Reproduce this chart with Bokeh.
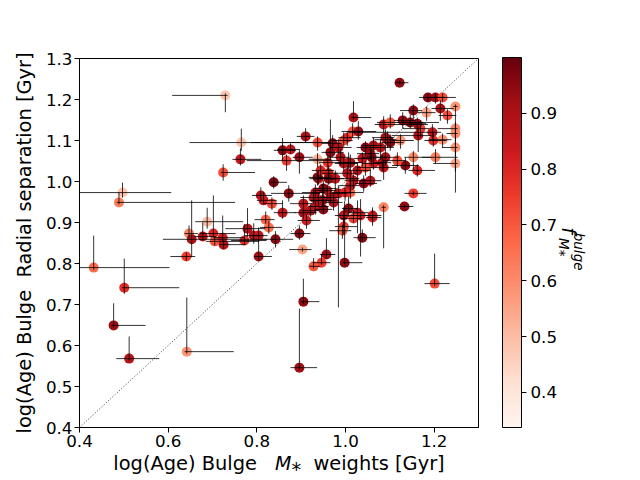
import numpy as np
from bokeh.plotting import figure
from bokeh.models import Range1d, FixedTicker, LinearColorMapper, ColorBar, ColumnDataSource, LinearAxis
from bokeh.palettes import Reds256
from bokeh.transform import transform
from bokeh.embed import file_html
from bokeh.resources import INLINE

# ---- data ----
age_mass = [0.432, 0.501, 0.477, 0.512, 0.642, 0.497, 0.489, 0.729, 0.765, 0.763,
            0.724, 0.838, 0.688, 0.647, 0.653, 0.678, 0.702, 0.705, 0.723, 0.725,
            0.772, 0.779, 0.793, 0.804, 0.804, 0.641, 0.809, 0.815, 0.834, 0.820,
            0.827, 0.842, 0.858, 0.872, 0.858, 0.876, 0.896, 0.867, 0.910, 0.937,
            0.937, 0.905, 0.905, 0.932, 0.950, 0.948, 0.959, 0.939, 0.962, 0.966,
            0.996, 1.004, 1.016, 1.029, 1.018, 0.912, 0.896, 0.903, 0.957, 0.946,
            0.928, 0.998, 0.905, 0.896, 1.201, 0.996, 1.007, 1.027, 1.034, 1.018,
            1.061, 1.086, 1.133, 0.996, 0.993, 1.038, 0.984, 1.011, 1.011, 0.928,
            0.937, 0.977, 1.011, 1.041, 1.056, 0.944, 1.004, 1.027, 1.045, 1.063,
            1.086, 1.135, 1.162, 0.989, 1.007, 1.038, 1.056, 1.090, 1.117, 1.153,
            1.203, 1.248, 1.248, 0.960, 0.971, 0.984, 1.045, 1.063, 1.079, 1.095,
            1.124, 1.164, 1.198, 1.219, 1.248, 1.248, 1.169, 1.196, 1.129, 1.146,
            1.162, 1.086, 1.101, 1.153, 1.214, 1.183, 1.230, 1.186, 1.203, 1.219,
            1.122, 1.248, 1.153,
            1.101, 1.090, 1.083, 1.011, 0.996, 0.962, 1.018, 0.932, 0.950, 0.966,
            0.999, 0.939, 0.973, 1.061, 0.921, 1.059]
age_radial = [0.790, 0.741, 0.649, 0.568, 0.585, 0.973, 0.949, 1.210, 1.095, 1.054,
              1.022, 0.998, 0.902, 0.873, 0.859, 0.866, 0.873, 0.854, 0.863, 0.846,
              0.856, 0.885, 0.868, 0.868, 0.817, 0.817, 0.966, 0.954, 0.946, 0.907,
              0.888, 0.859, 0.924, 0.971, 1.076, 1.078, 1.059, 1.051, 1.110, 1.095,
              1.054, 0.946, 0.924, 0.939, 0.932, 0.954, 0.978, 1.007, 1.020, 1.071,
              1.100, 1.107, 1.122, 1.122, 1.156, 0.905, 0.873, 0.834, 0.822, 0.802,
              0.793, 0.802, 0.707, 0.546, 0.751, 0.917, 0.934, 0.924, 0.917, 0.910,
              0.912, 0.937, 0.939, 0.890, 0.880, 0.863, 0.971, 0.973, 0.990, 0.961,
              1.010, 1.007, 1.007, 0.995, 1.002, 1.027, 1.020, 1.027, 1.034, 1.044,
              1.034, 1.039, 1.027, 1.059, 1.046, 1.056, 1.068, 1.059, 1.051, 1.059,
              1.059, 1.083, 1.044, 1.046, 1.093, 1.083, 1.083, 1.088, 1.083, 1.102,
              1.100, 1.112, 1.100, 1.102, 1.129, 1.117, 1.129, 1.120, 1.149, 1.144,
              1.141, 1.139, 1.144, 1.173, 1.178, 1.168, 1.161, 1.205, 1.205, 1.205,
              1.241, 1.183, 0.971,
              1.095, 1.107, 1.046, 1.046, 1.044, 1.007, 1.002, 0.973, 0.983, 0.961,
              0.973, 0.954, 0.949, 0.917, 0.929, 1.059]
f_bulge = [0.66, 0.78, 0.93, 0.88, 0.58, 0.48, 0.63, 0.48, 0.48, 0.85,
           0.72, 0.97, 0.50, 0.62, 0.90, 0.87, 0.80, 0.70, 0.82, 0.88,
           0.76, 0.88, 0.88, 0.85, 0.92, 0.75, 0.88, 0.84, 0.72, 0.68,
           0.66, 0.95, 0.85, 0.95, 0.95, 0.85, 0.92, 0.75, 0.90, 0.72,
           0.52, 0.85, 0.90, 0.85, 0.95, 0.93, 0.85, 0.82, 0.82, 0.95,
           0.72, 0.78, 0.70, 0.93, 0.90, 0.82, 0.95, 0.55, 0.92, 0.75,
           0.70, 0.95, 0.95, 0.92, 0.72, 0.85, 0.95, 0.85, 0.82, 0.75,
           0.82, 0.62, 0.95, 0.75, 0.68, 0.95, 0.88, 0.68, 0.85, 0.85,
           0.95, 0.85, 0.70, 0.95, 0.88, 0.80, 0.85, 0.88, 0.72, 0.82,
           0.85, 0.95, 0.80, 0.88, 0.95, 0.85, 0.90, 0.90, 0.72, 0.60,
           0.62, 0.58, 0.55, 0.75, 0.95, 0.88, 0.95, 0.90, 0.85, 0.95,
           0.58, 0.88, 0.78, 0.58, 0.60, 0.60, 0.75, 0.85, 0.95, 0.95,
           0.92, 0.85, 0.70, 0.95, 0.90, 0.55, 0.72, 0.95, 0.92, 0.72,
           0.95, 0.58, 0.75,
           0.95, 0.90, 0.90, 0.90, 0.85, 0.95, 0.85, 0.85, 0.95, 0.90,
           0.80, 0.90, 0.88, 0.85, 0.88, 0.95]
err_mass_lo = [0.060, 0.005, 0.005, 0.029, 0.005, 0.120, 0.005, 0.120, 0.117, 0.018,
               0.005, 0.007, 0.027, 0.010, 0.065, 0.020, 0.030, 0.020, 0.020, 0.010,
               0.030, 0.050, 0.020, 0.015, 0.010, 0.036, 0.020, 0.015, 0.020, 0.025,
               0.020, 0.030, 0.020, 0.040, 0.020, 0.030, 0.015, 0.090, 0.020, 0.150,
               0.020, 0.030, 0.020, 0.015, 0.020, 0.025, 0.030, 0.020, 0.015, 0.020,
               0.030, 0.020, 0.025, 0.020, 0.005, 0.020, 0.020, 0.030, 0.015, 0.020,
               0.010, 0.005, 0.005, 0.020, 0.023, 0.020, 0.015, 0.020, 0.020, 0.030,
               0.015, 0.005, 0.015, 0.020, 0.030, 0.020, 0.020, 0.020, 0.025, 0.030,
               0.020, 0.020, 0.030, 0.020, 0.015, 0.020, 0.030, 0.020, 0.020, 0.025,
               0.020, 0.030, 0.020, 0.030, 0.020, 0.020, 0.030, 0.020, 0.030, 0.020,
               0.030, 0.030, 0.050, 0.020, 0.025, 0.020, 0.020, 0.025, 0.020, 0.030,
               0.020, 0.060, 0.020, 0.030, 0.040, 0.020, 0.040, 0.190, 0.020, 0.030,
               0.020, 0.020, 0.030, 0.030, 0.020, 0.020, 0.020, 0.020, 0.015, 0.020,
               0.010, 0.005, 0.020,
               0.020, 0.030, 0.020, 0.030, 0.020, 0.020, 0.020, 0.030, 0.020, 0.020,
               0.030, 0.020, 0.020, 0.020, 0.020, 0.020]
err_mass_hi = [0.171, 0.124, 0.072, 0.068, 0.106, 0.110, 0.262, 0.005, 0.200, 0.047,
               0.072, 0.030, 0.081, 0.020, 0.170, 0.030, 0.050, 0.100, 0.050, 0.050,
               0.050, 0.040, 0.020, 0.020, 0.030, 0.020, 0.025, 0.030, 0.025, 0.020,
               0.030, 0.040, 0.030, 0.070, 0.030, 0.020, 0.030, 0.120, 0.020, 0.030,
               0.030, 0.020, 0.030, 0.030, 0.020, 0.030, 0.020, 0.040, 0.020, 0.030,
               0.020, 0.030, 0.020, 0.040, 0.040, 0.030, 0.025, 0.020, 0.020, 0.020,
               0.015, 0.040, 0.036, 0.040, 0.034, 0.030, 0.020, 0.025, 0.020, 0.020,
               0.020, 0.005, 0.020, 0.030, 0.020, 0.030, 0.020, 0.030, 0.020, 0.040,
               0.030, 0.020, 0.020, 0.030, 0.025, 0.030, 0.020, 0.030, 0.020, 0.020,
               0.030, 0.030, 0.040, 0.020, 0.030, 0.020, 0.020, 0.030, 0.020, 0.040,
               0.050, 0.005, 0.005, 0.030, 0.020, 0.030, 0.030, 0.020, 0.030, 0.020,
               0.030, 0.030, 0.030, 0.020, 0.005, 0.005, 0.020, 0.020, 0.030, 0.030,
               0.020, 0.100, 0.110, 0.020, 0.030, 0.020, 0.020, 0.020, 0.020, 0.030,
               0.020, 0.005, 0.030,
               0.030, 0.020, 0.020, 0.020, 0.030, 0.020, 0.030, 0.020, 0.030, 0.020,
               0.020, 0.030, 0.020, 0.020, 0.020, 0.030]
err_rad_lo = [0.005, 0.015, 0.005, 0.005, 0.005, 0.012, 0.005, 0.041, 0.020, 0.015,
              0.020, 0.015, 0.017, 0.010, 0.044, 0.010, 0.010, 0.010, 0.010, 0.010,
              0.010, 0.020, 0.020, 0.015, 0.010, 0.010, 0.015, 0.010, 0.015, 0.010,
              0.015, 0.020, 0.015, 0.020, 0.025, 0.010, 0.040, 0.025, 0.015, 0.020,
              0.020, 0.010, 0.015, 0.020, 0.010, 0.015, 0.020, 0.015, 0.010, 0.020,
              0.015, 0.020, 0.015, 0.020, 0.005, 0.020, 0.015, 0.005, 0.010, 0.005,
              0.005, 0.005, 0.005, 0.005, 0.005, 0.030, 0.020, 0.050, 0.100, 0.010,
              0.020, 0.100, 0.005, 0.020, 0.020, 0.010, 0.278, 0.015, 0.020, 0.015,
              0.020, 0.030, 0.015, 0.020, 0.015, 0.020, 0.015, 0.025, 0.020, 0.015,
              0.030, 0.020, 0.015, 0.020, 0.015, 0.020, 0.015, 0.020, 0.015, 0.030,
              0.015, 0.020, 0.020, 0.020, 0.015, 0.015, 0.020, 0.015, 0.030, 0.020,
              0.020, 0.040, 0.015, 0.020, 0.015, 0.015, 0.020, 0.020, 0.020, 0.015,
              0.020, 0.020, 0.015, 0.020, 0.030, 0.020, 0.020, 0.010, 0.015, 0.010,
              0.005, 0.210, 0.005,
              0.020, 0.015, 0.020, 0.015, 0.020, 0.015, 0.020, 0.015, 0.020, 0.015,
              0.020, 0.015, 0.020, 0.015, 0.015, 0.020]
err_rad_hi = [0.078, 0.071, 0.054, 0.054, 0.132, 0.024, 0.024, 0.005, 0.034, 0.027,
              0.020, 0.015, 0.034, 0.020, 0.095, 0.034, 0.093, 0.010, 0.054, 0.010,
              0.040, 0.050, 0.030, 0.020, 0.040, 0.010, 0.020, 0.020, 0.015, 0.020,
              0.015, 0.020, 0.030, 0.020, 0.030, 0.015, 0.020, 0.015, 0.020, 0.015,
              0.015, 0.020, 0.010, 0.015, 0.025, 0.040, 0.015, 0.020, 0.020, 0.080,
              0.020, 0.015, 0.020, 0.025, 0.040, 0.015, 0.020, 0.005, 0.040, 0.020,
              0.020, 0.150, 0.056, 0.144, 0.073, 0.020, 0.030, 0.030, 0.040, 0.020,
              0.020, 0.005, 0.005, 0.020, 0.015, 0.020, 0.020, 0.020, 0.020, 0.020,
              0.015, 0.020, 0.025, 0.020, 0.030, 0.015, 0.020, 0.020, 0.015, 0.020,
              0.020, 0.020, 0.015, 0.020, 0.025, 0.015, 0.020, 0.030, 0.020, 0.015,
              0.020, 0.020, 0.020, 0.020, 0.020, 0.020, 0.015, 0.020, 0.020, 0.020,
              0.015, 0.020, 0.020, 0.015, 0.015, 0.010, 0.020, 0.020, 0.020, 0.020,
              0.015, 0.020, 0.020, 0.015, 0.020, 0.015, 0.015, 0.010, 0.010, 0.010,
              0.005, 0.005, 0.005,
              0.020, 0.020, 0.020, 0.020, 0.015, 0.020, 0.015, 0.020, 0.020, 0.020,
              0.015, 0.020, 0.020, 0.020, 0.015, 0.020]

x_ticks = [0.4, 0.6, 0.8, 1.0, 1.2]
x_tick_labels = ["0.4", "0.6", "0.8", "1.0", "1.2"]
y_ticks = [0.4, 0.5, 0.6, 0.7, 0.8, 0.9, 1.0, 1.1, 1.2, 1.3]
y_tick_labels = ["0.4", "0.5", "0.6", "0.7", "0.8", "0.9", "1.0", "1.1", "1.2", "1.3"]
cb_ticks = [0.4, 0.5, 0.6, 0.7, 0.8, 0.9]
cb_tick_labels = ["0.4", "0.5", "0.6", "0.7", "0.8", "0.9"]
f_range = [0.337, 1.0]
one_to_one = [0.4, 1.3]

xa = np.array(age_mass); ya = np.array(age_radial)
src = ColumnDataSource(dict(
    x=xa, y=ya, c=f_bulge,
    xl=xa - np.array(err_mass_lo), xh=xa + np.array(err_mass_hi),
    yl=ya - np.array(err_rad_lo), yh=ya + np.array(err_rad_hi)))

FONT = "DejaVu Sans"
NB = "\u00a0"
p = figure(width=640, height=480, output_backend="svg", toolbar_location=None,
           x_range=Range1d(0.4, 1.3), y_range=Range1d(0.4, 1.3),
           min_border_left=79, min_border_right=162, min_border_top=58, min_border_bottom=53)
p.grid.visible = False
p.outline_line_color = "black"
p.outline_line_width = 1

for ax, ticks, labels in ((p.xaxis[0], x_ticks, x_tick_labels), (p.yaxis[0], y_ticks, y_tick_labels)):
    ax.ticker = FixedTicker(ticks=ticks)
    ax.major_label_overrides = {t: l for t, l in zip(ticks, labels)}
    ax.major_tick_out = 5
    ax.major_tick_in = 0
    ax.minor_tick_out = 0
    ax.minor_tick_in = 0
    ax.major_tick_line_color = "black"
    ax.axis_line_color = "black"
    ax.major_label_text_font = FONT
    ax.major_label_text_font_size = "16.7px"
    ax.major_label_text_color = "black"
    ax.major_label_standoff = 2
    ax.axis_label_text_font = FONT
    ax.axis_label_text_font_size = "19.4px"
    ax.axis_label_text_font_style = "normal"
    ax.axis_label_text_color = "black"

p.yaxis.axis_label = "log(Age) Bulge" + NB + " Radial separation [Gyr]"
p.yaxis.axis_label_standoff = 7
p.xaxis.axis_label = "log(Age) Bulge" + NB + NB + " \U0001D614\u204E" + NB + " weights [Gyr]"
p.xaxis.axis_label_standoff = 2

mapper = LinearColorMapper(palette=tuple(reversed(Reds256)), low=f_range[0], high=f_range[1])

p.line(one_to_one, one_to_one, line_color="black", line_width=0.8, line_dash="1 2")
p.scatter("x", "y", source=src, size=10, fill_color=transform("c", mapper), line_color=None)
p.segment("xl", "y", "xh", "y", source=src, line_color="black", line_width=1, line_alpha=0.8)
p.segment("x", "yl", "x", "yh", source=src, line_color="black", line_width=1, line_alpha=0.8)

cb = ColorBar(color_mapper=mapper, ticker=FixedTicker(ticks=cb_ticks),
              major_label_overrides={t: l for t, l in zip(cb_ticks, cb_tick_labels)},
              width=19, height=370, padding=0, margin=0, location=(24, 0),
              bar_line_color="black", bar_line_width=1,
              major_tick_line_color="black", major_tick_out=5, major_tick_in=0,
              minor_tick_line_color=None, label_standoff=4,
              major_label_text_font=FONT, major_label_text_font_size="16.7px",
              major_label_text_color="black", border_line_color=None,
              background_fill_color=None)
p.add_layout(cb, "right")

# colour-bar label f^{bulge}_{M*}: three label-only axes stacked to the right
for txt, size, standoff in ((NB * 2 + "M\u204E", "13.6px", -5),
                            ("f" + NB * 4, "19.4px", -18),
                            (NB * 4 + "bulge", "13.6px", -12)):
    ax = LinearAxis(ticker=FixedTicker(ticks=[]), axis_line_color=None,
                    major_tick_line_color=None, minor_tick_line_color=None,
                    major_tick_out=0, major_tick_in=0, minor_tick_out=0, minor_tick_in=0,
                    major_label_standoff=0, axis_label=txt, axis_label_standoff=standoff,
                    axis_label_text_font=FONT, axis_label_text_font_size=size,
                    axis_label_text_font_style="italic", axis_label_text_color="black")
    p.add_layout(ax, "right")

open("out.html", "w").write(file_html(p, INLINE))
